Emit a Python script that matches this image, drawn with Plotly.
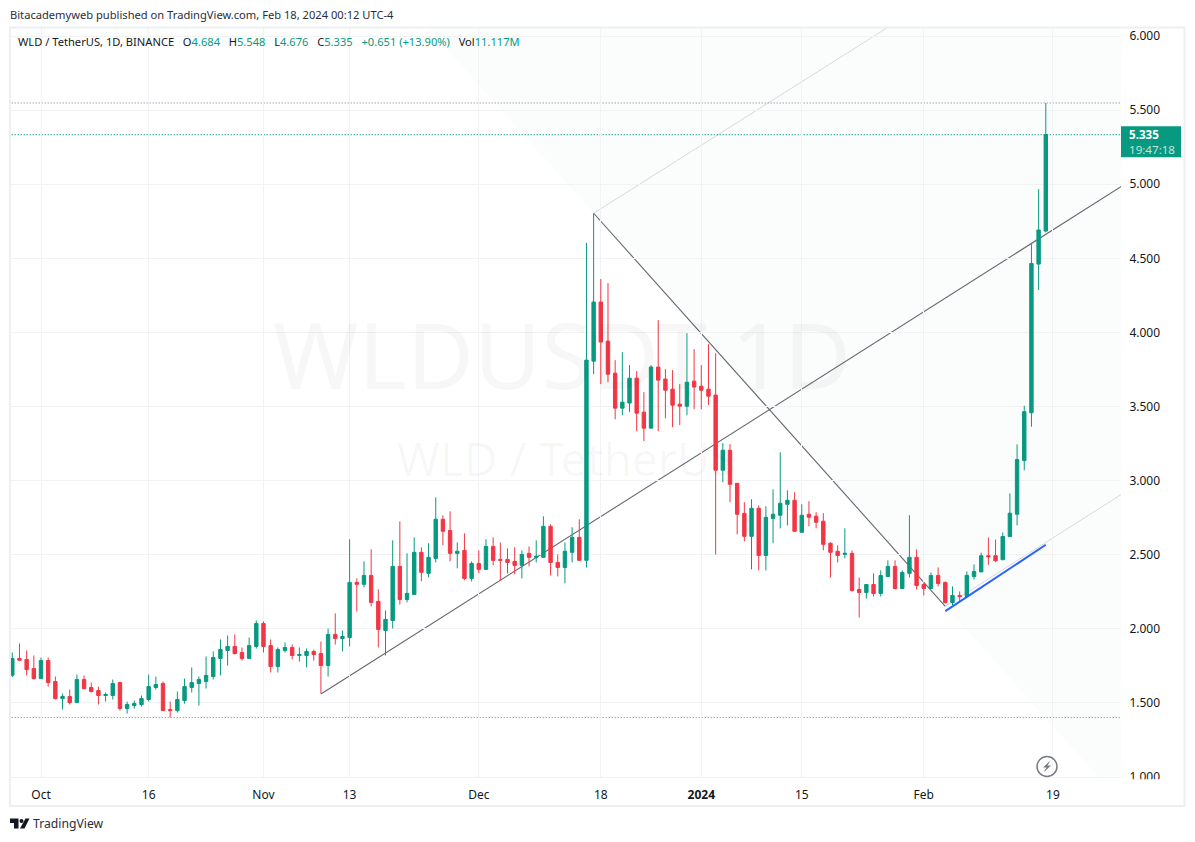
import pandas as pd
import plotly.graph_objects as go

# velas diarias WLD/USDT
dates = pd.date_range("2023-09-27", periods=145, freq="D")

opens = [1.687, 1.800, 1.793, 1.732, 1.664, 1.786, 1.644, 1.529, 1.543, 1.502, 1.658, 1.604, 1.583, 1.550, 1.550,
         1.637, 1.462, 1.482, 1.489, 1.523, 1.604, 1.631, 1.455, 1.448, 1.516, 1.604, 1.631, 1.644, 1.678, 1.800,
         1.854, 1.881, 1.840, 1.800, 1.881, 2.036, 1.887, 1.745, 1.854, 1.874, 1.820, 1.820, 1.847, 1.833, 1.752,
         1.962, 1.935, 1.941, 2.313, 2.300, 2.360, 2.185, 1.989, 2.056, 2.421, 2.198, 2.232, 2.516, 2.374, 2.475,
         2.739, 2.664, 2.509, 2.529, 2.340, 2.441, 2.401, 2.556, 2.468, 2.468, 2.455, 2.428, 2.509, 2.482, 2.482,
         2.691, 2.448, 2.414, 2.516, 2.617, 2.462, 3.806, 4.205, 3.941, 3.725, 3.489, 3.523, 3.691, 3.462, 3.354,
         3.766, 3.685, 3.617, 3.516, 3.502, 3.671, 3.637, 3.617, 3.577, 3.070, 3.205, 2.982, 2.779, 2.624, 2.813,
         2.495, 2.745, 2.766, 2.840, 2.867, 2.651, 2.773, 2.760, 2.726, 2.577, 2.523, 2.502, 2.509, 2.265, 2.245,
         2.299, 2.238, 2.353, 2.421, 2.272, 2.374, 2.482, 2.299, 2.272, 2.360, 2.313, 2.177, 2.225, 2.218, 2.353,
         2.384, 2.493, 2.493, 2.466, 2.623, 2.773, 3.135, 3.458, 4.461, 4.684]
highs = [1.840, 1.901, 1.854, 1.820, 1.806, 1.806, 1.678, 1.563, 1.590, 1.691, 1.685, 1.637, 1.610, 1.570, 1.658,
         1.644, 1.509, 1.516, 1.550, 1.691, 1.678, 1.644, 1.509, 1.577, 1.664, 1.739, 1.678, 1.813, 1.847, 1.928,
         1.955, 1.962, 1.874, 1.941, 2.056, 2.050, 1.928, 1.874, 1.908, 1.894, 1.874, 1.867, 1.860, 1.914, 2.002,
         2.104, 1.989, 2.604, 2.340, 2.455, 2.536, 2.266, 2.124, 2.597, 2.725, 2.509, 2.617, 2.550, 2.577, 2.887,
         2.766, 2.793, 2.583, 2.644, 2.455, 2.529, 2.604, 2.617, 2.583, 2.543, 2.550, 2.529, 2.556, 2.597, 2.759,
         2.705, 2.502, 2.583, 2.685, 2.739, 4.604, 4.804, 4.360, 4.333, 3.813, 3.867, 3.779, 3.739, 3.597, 3.779,
         4.083, 3.752, 3.745, 3.651, 3.995, 3.887, 3.779, 3.921, 3.860, 3.252, 3.245, 2.982, 2.854, 2.874, 2.833,
         2.827, 2.941, 3.191, 2.935, 2.921, 2.840, 2.861, 2.787, 2.780, 2.584, 2.563, 2.678, 2.529, 2.346, 2.299,
         2.374, 2.394, 2.462, 2.462, 2.394, 2.766, 2.536, 2.313, 2.380, 2.414, 2.319, 2.286, 2.252, 2.387, 2.435,
         2.514, 2.616, 2.602, 2.650, 2.914, 3.244, 3.505, 4.595, 4.966, 5.548]
lows = [1.673, 1.782, 1.685, 1.658, 1.664, 1.610, 1.523, 1.455, 1.489, 1.502, 1.590, 1.570, 1.489, 1.509, 1.523,
        1.448, 1.428, 1.462, 1.475, 1.509, 1.590, 1.448, 1.401, 1.435, 1.495, 1.570, 1.482, 1.597, 1.658, 1.685,
        1.752, 1.827, 1.786, 1.800, 1.867, 1.840, 1.705, 1.705, 1.840, 1.793, 1.779, 1.739, 1.786, 1.563, 1.678,
        1.894, 1.847, 1.881, 2.117, 2.279, 2.151, 1.874, 1.820, 2.002, 2.164, 2.178, 2.232, 2.320, 2.347, 2.448,
        2.563, 2.455, 2.408, 2.327, 2.320, 2.374, 2.401, 2.428, 2.327, 2.374, 2.367, 2.340, 2.421, 2.448, 2.482,
        2.360, 2.354, 2.306, 2.448, 2.462, 2.414, 3.718, 3.651, 3.664, 3.414, 3.441, 3.462, 3.333, 3.266, 3.354,
        3.333, 3.421, 3.360, 3.374, 3.441, 3.482, 3.482, 3.509, 2.502, 2.989, 2.854, 2.637, 2.590, 2.401, 2.394,
        2.394, 2.577, 2.678, 2.698, 2.658, 2.651, 2.692, 2.678, 2.529, 2.346, 2.448, 2.475, 2.252, 2.076, 2.204,
        2.218, 2.218, 2.353, 2.265, 2.272, 2.346, 2.265, 2.225, 2.272, 2.286, 2.170, 2.159, 2.184, 2.211, 2.333,
        2.384, 2.432, 2.452, 2.466, 2.623, 2.698, 3.069, 3.364, 4.286, 4.676]
closes = [1.800, 1.788, 1.725, 1.664, 1.786, 1.637, 1.529, 1.543, 1.502, 1.658, 1.597, 1.577, 1.550, 1.556, 1.631,
          1.462, 1.489, 1.496, 1.529, 1.610, 1.624, 1.448, 1.448, 1.523, 1.610, 1.637, 1.658, 1.685, 1.806, 1.860,
          1.881, 1.833, 1.800, 1.887, 2.036, 1.881, 1.745, 1.860, 1.874, 1.820, 1.827, 1.847, 1.827, 1.752, 1.962,
          1.935, 1.948, 2.313, 2.300, 2.360, 2.178, 1.995, 2.063, 2.421, 2.198, 2.239, 2.516, 2.381, 2.482, 2.739,
          2.658, 2.509, 2.523, 2.340, 2.441, 2.401, 2.556, 2.462, 2.462, 2.448, 2.428, 2.502, 2.482, 2.489, 2.691,
          2.448, 2.414, 2.523, 2.617, 2.462, 3.813, 4.205, 3.935, 3.718, 3.489, 3.529, 3.691, 3.455, 3.354, 3.766,
          3.678, 3.610, 3.509, 3.502, 3.664, 3.631, 3.610, 3.570, 3.070, 3.205, 2.975, 2.773, 2.624, 2.813, 2.495,
          2.752, 2.773, 2.847, 2.867, 2.658, 2.766, 2.753, 2.719, 2.570, 2.516, 2.495, 2.509, 2.258, 2.245, 2.299,
          2.238, 2.360, 2.421, 2.272, 2.380, 2.482, 2.292, 2.272, 2.360, 2.306, 2.177, 2.225, 2.218, 2.360, 2.387,
          2.493, 2.486, 2.459, 2.623, 2.780, 3.142, 3.465, 4.465, 4.691, 5.335]

# ticks
x_tickvals = ["2023-10-01", "2023-10-16", "2023-11-01", "2023-11-13", "2023-12-01", "2023-12-18",
              "2024-01-01", "2024-01-15", "2024-02-01", "2024-02-19"]
x_ticktext = ["Oct", "16", "Nov", "13", "Dec", "18", "<b>2024</b>", "15", "Feb", "19"]
y_tickvals = [1.0, 1.5, 2.0, 2.5, 3.0, 3.5, 4.0, 4.5, 5.0, 5.5, 6.0]
y_ticktext = ["1.000", "1.500", "2.000", "2.500", "3.000", "3.500", "4.000", "4.500", "5.000", "5.500", "6.000"]

# dibujos del autor sobre el grafico
rising_dates = ["2023-11-09", "2024-03-01"]
rising_prices = [1.56, 5.03]
falling_dates = ["2023-12-17", "2024-02-04"]
falling_prices = [4.804, 2.152]
upper_dates = ["2023-12-17", "2024-01-29"]
upper_prices = [4.804, 6.12]
lower_dates = ["2024-02-04", "2024-03-01"]
lower_prices = [2.152, 2.952]
blue_dates = ["2024-02-04", "2024-02-18"]
blue_prices = [2.119, 2.567]
tint_dates = ["2023-11-23", "2024-03-01", "2024-03-01", "2024-02-26"]
tint_prices = [6.10, 6.10, 0.96, 0.96]
high_level = 5.548
low_level = 1.401
last_price = 5.335

GREEN = "#089981"
RED = "#F23645"
TEXT = "#131722"
GRID = "#F1F2F4"
FRAME = "#EEEFF1"
FONT = "Noto Sans"


# pasar de pixeles a coordenadas paper
def px(x):
    return (x - 10) / 1111


def py(y):
    return (777.5 - y) / 750


fig = go.Figure()

fig.add_trace(go.Candlestick(
    x=dates, open=opens, high=highs, low=lows, close=closes,
    increasing=dict(line=dict(color=GREEN, width=1), fillcolor=GREEN),
    decreasing=dict(line=dict(color=RED, width=1), fillcolor=RED),
    whiskerwidth=0, hoverinfo="skip", showlegend=False,
))

fig.add_trace(go.Scatter(x=blue_dates, y=blue_prices, mode="lines", line=dict(color="#2962FF", width=2),
                         hoverinfo="skip", showlegend=False))

shapes = []

# zona sombreada
tint_path = "M " + " L ".join(f"{d},{p}" for d, p in zip(tint_dates, tint_prices)) + " Z"
shapes.append(dict(type="path", path=tint_path, xref="x", yref="y", layer="below",
                   fillcolor="rgba(20,110,100,0.016)", line=dict(width=0)))


def add_line(xs, ys, color, width=1.0, dash="solid"):
    shapes.append(dict(type="line", xref="x", yref="y", layer="below", x0=xs[0], x1=xs[1], y0=ys[0], y1=ys[1],
                       line=dict(color=color, width=width, dash=dash)))


add_line(rising_dates, rising_prices, "#66666F", width=1.1)
add_line(falling_dates, falling_prices, "#66666F", width=1.1)
add_line(upper_dates, upper_prices, "#D6D8DC")
add_line(lower_dates, lower_prices, "#D6D8DC")
add_line(["2023-09-01", "2024-03-01"], [high_level, high_level], "#787B86", dash="1px,2px")
add_line(["2023-09-01", "2024-03-01"], [low_level, low_level], "#787B86", dash="1px,2px")
add_line(["2023-09-01", "2024-03-01"], [last_price, last_price], GREEN, width=1.2, dash="1px,2px")

# tapa para que el 1.000 quede cortado como en el original
shapes.append(dict(type="rect", xref="paper", yref="paper", x0=px(1122), x1=px(1183), y0=py(806), y1=py(779.8),
                   fillcolor="white", line=dict(width=0)))

# marco
shapes.append(dict(type="rect", xref="paper", yref="paper", x0=px(10), x1=px(1184.5), y0=py(806.5), y1=py(27),
                   line=dict(color=FRAME, width=2)))

# etiqueta del ultimo precio
shapes.append(dict(type="rect", xref="paper", yref="paper", x0=px(1121), x1=px(1181), y0=py(157), y1=py(126),
                   fillcolor=GREEN, line=dict(width=0)))

# icono del rayo
shapes.append(dict(type="circle", xref="paper", yref="paper", x0=px(1037), x1=px(1057), y0=py(777), y1=py(757),
                   line=dict(color="#787B86", width=1.5)))
bolt = [(1050.5, 761), (1043, 768), (1046.5, 768), (1043.5, 773), (1051, 766), (1047.5, 766)]
shapes.append(dict(type="path", xref="paper", yref="paper", line=dict(width=0), fillcolor="#787B86",
                   path="M " + " L ".join(f"{px(a)},{py(b)}" for a, b in bolt) + " Z"))

# logo de TradingView
logo_t = [(10, 819), (18.5, 819), (18.5, 829), (14, 829), (14, 823.5), (10, 823.5)]
logo_v = [(25.5, 819), (29.5, 819), (24.5, 829), (20, 829)]
for poly in (logo_t, logo_v):
    shapes.append(dict(type="path", xref="paper", yref="paper", line=dict(width=0), fillcolor=TEXT,
                       path="M " + " L ".join(f"{px(a)},{py(b)}" for a, b in poly) + " Z"))
shapes.append(dict(type="circle", xref="paper", yref="paper", x0=px(19.5), x1=px(23.5), y0=py(823.5), y1=py(819.5),
                   fillcolor=TEXT, line=dict(width=0)))

fig.update_layout(shapes=shapes)


def label(text, x, y, size=11.15, color=TEXT, xanchor="left"):
    fig.add_annotation(text=text, x=px(x), y=py(y), xref="paper", yref="paper", showarrow=False,
                       xanchor=xanchor, yanchor="middle", align="left", font=dict(family=FONT, size=size, color=color))


# marca de agua
label("WLDUSDT 1D", 562, 353, size=92, color="rgba(19,23,34,0.035)", xanchor="center")
label("WLD / TetherUS", 566, 458, size=46, color="rgba(19,23,34,0.035)", xanchor="center")

label("Bitacademyweb published on TradingView.com, Feb 18, 2024 00:12 UTC-4", 8, 14, color="#2A2E39")


def val(text):
    return f'<span style="color:{GREEN}">{text}</span>'


gap = "\u00a0\u00a0\u00a0"
legend_text = ("WLD / TetherUS, 1D, BINANCE" + gap + "O" + val("4.684") + gap + "H" + val("5.548")
               + gap + "L" + val("4.676") + gap + "C" + val("5.335") + gap
               + val("+0.651 (+13.90%)") + gap + "Vol" + val("11.117M"))
label(legend_text, 16, 41)

label('<b>5.335</b><br><span style="color:rgba(255,255,255,0.75)">19:47:18</span>', 1127, 141.5, size=11.6, color="white")
label("TradingView", 31, 824, size=12.2, color="#2A2E39")

fig.update_layout(
    width=1195, height=842,
    margin=dict(l=10, r=74, t=27.5, b=64.5, autoexpand=False),
    paper_bgcolor="white", plot_bgcolor="white",
    boxgap=0.32,
    hovermode=False,
    font=dict(family=FONT, size=12, color=TEXT),
    xaxis=dict(
        type="date", range=["2023-09-26 16:20", "2024-02-28 11:30"], rangeslider=dict(visible=False),
        tickmode="array", tickvals=x_tickvals, ticktext=x_ticktext, tickangle=0,
        ticks="outside", ticklen=7, tickcolor="rgba(0,0,0,0)",
        showgrid=True, gridcolor=GRID, gridwidth=1, zeroline=False,
        showline=True, linecolor=GRID, linewidth=1,
        tickfont=dict(family=FONT, size=12, color=TEXT),
    ),
    yaxis=dict(
        side="right", range=[1.0, 6.054], tickmode="array", tickvals=y_tickvals, ticktext=y_ticktext,
        ticks="outside", ticklen=5, tickcolor="rgba(0,0,0,0)",
        showgrid=True, gridcolor=GRID, gridwidth=1, zeroline=False, showline=False,
        tickfont=dict(family=FONT, size=12, color=TEXT),
    ),
)

fig.write_html("out.html", config=dict(displayModeBar=False),
               post_script="document.body.style.margin='0';document.body.style.overflow='hidden';")
